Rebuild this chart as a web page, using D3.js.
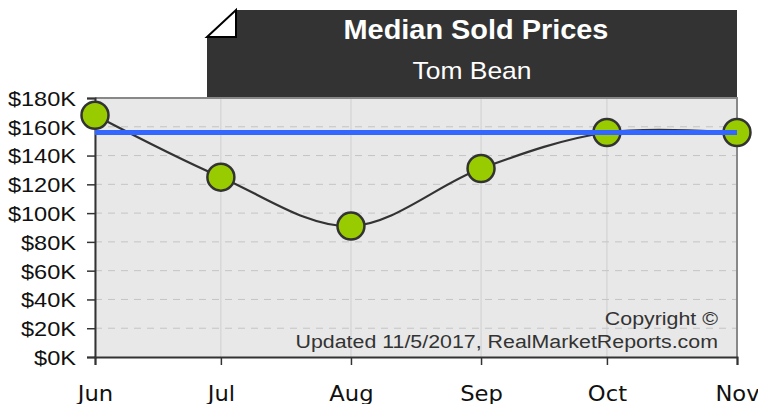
<!DOCTYPE html>
<html>
<head>
<meta charset="utf-8">
<script src="https://cdn.jsdelivr.net/npm/d3@7"></script>
<style>
  body { margin: 0; background: #fff; }
  svg { display: block; }
</style>
</head>
<body>
<svg id="chart" width="758" height="404"></svg>
<script>
// chart values
var months = ['2017-06-01', '2017-07-01', '2017-08-01', '2017-09-01', '2017-10-01', '2017-11-01']
var monthLabels = ['Jun', 'Jul', 'Aug', 'Sep', 'Oct', 'Nov']
var prices = [168000, 125000, 91000, 131000, 156000, 156000]
var referencePrice = 156000
var yTicks = [0, 20000, 40000, 60000, 80000, 100000, 120000, 140000, 160000, 180000]
var titleText = 'Median Sold Prices'
var subtitleText = 'Tom Bean'
var footLines = ['Copyright \u00a9', 'Updated 11/5/2017, RealMarketReports.com']

var parse = d3.timeParse('%Y-%m-%d')
var data = months.map((m, i) => ({date: parse(m), value: prices[i], label: monthLabels[i]}))

var svg = d3.select('#chart')
var plotL = 95, plotR = 737, plotT = 98, plotB = 357
var sansFont = 'Liberation Sans, Arial, Helvetica, sans-serif'

var x = d3.scaleTime()
  .domain(d3.extent(data, d => d.date))
  .range([plotL, plotR])

var y = d3.scaleLinear()
  .domain([0, 180000])
  .range([plotB, plotT])

// text in the reference is a bit wider than the font, stretch it horizontally
function stretch (sel, sx, ax, ay) {
  sel.attr('transform', `translate(${ax},${ay}) scale(${sx},1) translate(${-ax},${-ay})`)
}

/*
    --------------------------------------
    Title box with folded corner
*/
svg.append('path')
  .attr('d', 'M236,10 L737,10 L737,97 L207,97 L207,37 Z')
  .style('fill', '#333')

svg.append('path')
  .attr('d', 'M207,37 L236,10 L236,37 Z')
  .style('fill', '#fff')
  .style('stroke', '#000')
  .style('stroke-width', 2)

svg.append('text')
  .attr('x', 476)
  .attr('y', 39)
  .attr('text-anchor', 'middle')
  .style('font-family', sansFont)
  .style('font-weight', 'bold')
  .style('font-size', '27px')
  .style('fill', '#fff')
  .text(titleText)
  .call(stretch, 1.07, 476, 39)

svg.append('text')
  .attr('x', 472)
  .attr('y', 79)
  .attr('text-anchor', 'middle')
  .style('font-family', sansFont)
  .style('font-size', '23px')
  .style('fill', '#fff')
  .text(subtitleText)
  .call(stretch, 1.15, 472, 79)

/*
    --------------------------------------
    Plot frame and grid
*/
svg.append('rect')
  .attr('x', plotL)
  .attr('y', plotT)
  .attr('width', plotR - plotL)
  .attr('height', plotB - plotT)
  .style('fill', '#e8e8e8')

svg.append('g')
  .selectAll('line')
  .data(data)
  .join('line')
  .attr('x1', d => x(d.date))
  .attr('x2', d => x(d.date))
  .attr('y1', plotT)
  .attr('y2', plotB)
  .style('stroke', '#cfcfcf')
  .style('stroke-width', 1)

svg.append('g')
  .selectAll('line')
  .data(yTicks.slice(1, -1))
  .join('line')
  .attr('x1', plotL)
  .attr('x2', plotR)
  .attr('y1', d => y(d))
  .attr('y2', d => y(d))
  .style('stroke', '#c4c4c4')
  .style('stroke-width', 1)
  .style('stroke-dasharray', '7,6')

// top and right borders
svg.append('path')
  .attr('d', `M${plotL},${plotT} L${plotR},${plotT} L${plotR},${plotB}`)
  .style('fill', 'none')
  .style('stroke', '#888')
  .style('stroke-width', 2)

/*
    --------------------------------------
    Axes
*/
var yAxis = svg.append('g')
  .attr('transform', `translate(${plotL},0)`)
  .call(d3.axisLeft(y).tickValues(yTicks).tickSize(8).tickPadding(11)
    .tickFormat(d => '$' + d / 1000 + 'K'))
yAxis.select('.domain').style('stroke', '#333').style('stroke-width', 2)
yAxis.selectAll('.tick line').style('stroke', '#333').style('stroke-width', 1.5)
yAxis.selectAll('text')
  .attr('x', -19 / 1.15)
  .attr('dy', '0.36em')
  .attr('transform', 'scale(1.15,1)')
  .style('font-family', sansFont)
  .style('font-size', '20.5px')
  .style('fill', '#111')

var xAxis = svg.append('g')
  .attr('transform', `translate(0,${plotB})`)
  .call(d3.axisBottom(x).tickValues(data.map(d => d.date)).tickSize(8).tickPadding(22)
    .tickFormat((d, i) => monthLabels[i]))
xAxis.select('.domain').style('stroke', '#333').style('stroke-width', 2)
xAxis.selectAll('.tick line').style('stroke', '#333').style('stroke-width', 1.5)
xAxis.selectAll('text')
  .attr('dy', null)
  .attr('y', 44)
  .attr('transform', 'scale(1.03,1)')
  .style('font-family', 'DejaVu Sans, sans-serif')
  .style('font-size', '22px')
  .style('fill', '#111')

/*
    --------------------------------------
    Footer text
*/
svg.append('g')
  .selectAll('text')
  .data(footLines)
  .join('text')
  .attr('x', 718)
  .attr('y', (d, i) => 325 + i * 23)
  .attr('text-anchor', 'end')
  .style('font-family', sansFont)
  .style('font-size', '19px')
  .style('fill', '#333')
  .text(d => d)
  .each(function (d, i) { stretch(d3.select(this), 1.125, 718, 325 + i * 23) })

/*
    --------------------------------------
    Series
*/
var line = d3.line()
  .x(d => x(d.date))
  .y(d => y(d.value))
  .curve(d3.curveCardinal)

svg.append('path')
  .datum(data)
  .attr('d', line)
  .style('fill', 'none')
  .style('stroke', '#333')
  .style('stroke-width', 2.2)

svg.append('g')
  .selectAll('circle')
  .data(data)
  .join('circle')
  .attr('cx', d => x(d.date))
  .attr('cy', d => y(d.value))
  .attr('r', 13.5)
  .style('fill', '#99cc00')
  .style('stroke', '#333')
  .style('stroke-width', 2.5)

svg.append('line')
  .attr('x1', plotL)
  .attr('x2', plotR)
  .attr('y1', y(referencePrice))
  .attr('y2', y(referencePrice))
  .style('stroke', '#3366ff')
  .style('stroke-width', 5)
</script>
</body>
</html>
